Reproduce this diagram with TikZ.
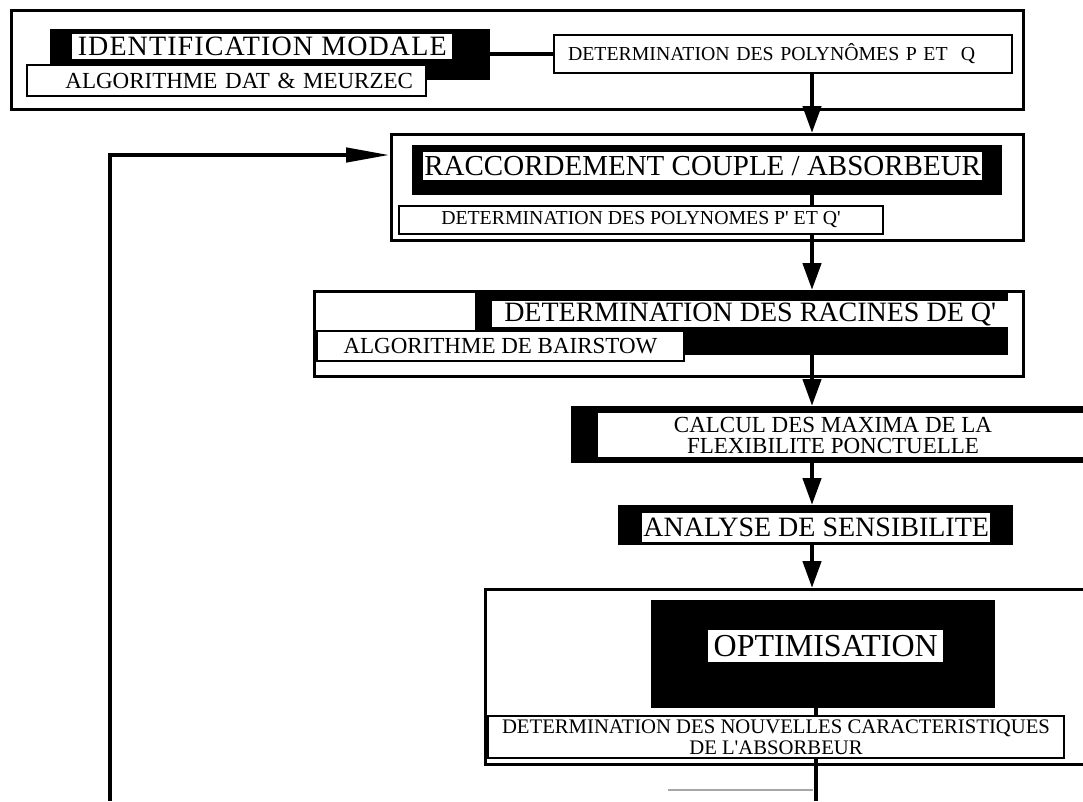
\documentclass[tikz,border=0pt]{standalone}
\usepackage{fontspec}
\setmainfont{Liberation Serif}
\usetikzlibrary{arrows.meta,calc}
\begin{document}
\begin{tikzpicture}[x=1pt,y=-1pt,
  frame/.style={draw, line width=2.5pt, inner sep=0pt, anchor=north west},
  blk/.style={fill=black, inner sep=0pt, anchor=north west},
  wht/.style={fill=white, inner sep=0pt, anchor=north west},
  sbox/.style={draw, fill=white, line width=2pt, inner sep=0pt, anchor=north west},
  big/.style={font=\fontsize{29}{30}\selectfont},
  bigb/.style={font=\fontsize{28}{30}\selectfont},
  mid/.style={font=\fontsize{23}{21}\selectfont},
  sml/.style={font=\fontsize{19.8}{21}\selectfont},
  conn/.style={line width=4.5pt},
  arr/.style={conn, -{Triangle[width=18pt,length=27pt]}},
  fbarr/.style={conn, -{Triangle[width=14pt,length=44pt]}},
]
\useasboundingbox (0,0) rectangle (1083,801);
\clip (0,0) rectangle (1083,801);
\coordinate (ax) at (812,0);
\coordinate (ax2) at (816,0);

% ---- top group
\node[frame, minimum width=1012pt, minimum height=99pt] (topframe) at (10,9) {};
\node[blk, minimum width=440pt, minimum height=51pt] (idblk) at (50,29) {};
\node[wht, font=\fontsize{28}{30}\selectfont\addfontfeature{LetterSpace=4}, minimum width=380pt, minimum height=25pt] (id) at (72,34) {IDENTIFICATION MODALE};
\node[sbox, mid, minimum height=31pt, text width=373pt, inner xsep=13pt, align=right] (algo) at (26,64) {ALGORITHME DAT \& MEURZEC};
\node[sbox, sml, minimum height=38pt, text width=430pt, inner xsep=14pt, align=left] (pq) at (553,34) {DETERMINATION DES POLYNÔMES P ET\ \ Q};
\draw[conn] (pq.west -| idblk.east) -- (pq.west);

% ---- raccordement
\node[frame, minimum width=632pt, minimum height=106pt] (raccframe) at (390,133) {};
\node[blk, minimum width=590pt, minimum height=50pt] (raccblk) at (412,145) {};
\node[wht, big, minimum width=559pt, minimum height=28pt] (racc) at (423,152) {RACCORDEMENT COUPLE / ABSORBEUR};
\node[sbox, sml, minimum width=484pt, minimum height=28pt] (pq2) at (398,205) {DETERMINATION DES POLYNOMES P\textquotesingle{} ET Q\textquotesingle};

% ---- racines
\node[frame, minimum width=709pt, minimum height=85pt] (racframe) at (313,290) {};
\node[blk, minimum width=533pt, minimum height=64pt] (racblk) at (475,291) {};
\node[wht, bigb, minimum width=516pt, minimum height=26pt] (rac) at (492,301) {DETERMINATION DES RACINES DE Q\textquotesingle};
\node[sbox, mid, minimum width=367pt, minimum height=30pt] (bair) at (316,330) {ALGORITHME DE BAIRSTOW};

% ---- calcul
\node[blk, minimum width=520pt, minimum height=57pt] (calcblk) at (571,406) {};
\node[wht, minimum width=500pt, minimum height=44pt] (calcw) at (598,413) {};
\node[mid, align=center, inner sep=0pt] (calc) at (833,435) {CALCUL DES MAXIMA DE LA\\FLEXIBILITE PONCTUELLE};

% ---- analyse
\node[blk, minimum width=395pt, minimum height=40pt] (anablk) at (618,505) {};
\node[wht, bigb, minimum width=348pt, minimum height=29pt] (ana) at (642,513) {ANALYSE DE SENSIBILITE};

% ---- optimisation
\node[frame, minimum width=620pt, minimum height=175pt] (optframe) at (484,588) {};
\node[blk, minimum width=344pt, minimum height=108pt] (optblk) at (651,600) {};
\node[wht, font=\fontsize{32}{34}\selectfont, minimum width=235pt, minimum height=32pt] (opt) at (708,630) {OPTIMISATION};
\node[sbox, font=\fontsize{20.7}{21}\selectfont, minimum width=576pt, minimum height=42pt, align=center] (nouv) at (487,715) {DETERMINATION DES NOUVELLES CARACTERISTIQUES\\DE L\textquotesingle ABSORBEUR};
\coordinate (bot) at (816,801);
\draw[black!35, line width=1.5pt] (668,790) -- (813,790);

% ---- connectors
\draw[arr] (pq.south -| ax) -- (raccframe.north -| ax);
\draw[conn] (raccblk.south -| ax) -- (pq2.north -| ax);
\draw[arr] (pq2.south -| ax) -- (racframe.north -| ax);
\draw[arr] (racblk.south -| ax) -- (calcblk.north -| ax);
\draw[arr] (calcblk.south -| ax) -- (anablk.north -| ax);
\draw[arr] (anablk.south -| ax) -- (optframe.north -| ax);
\draw[conn] (optblk.south -| ax2) -- (nouv.north -| ax2);
\draw[conn] (nouv.south -| ax2) -- (bot);
\coordinate (fbstart) at (110,801);
\coordinate (fby) at (0,155);
\draw[fbarr] (fbstart) |- (raccframe.west |- fby);
\end{tikzpicture}
\end{document}
